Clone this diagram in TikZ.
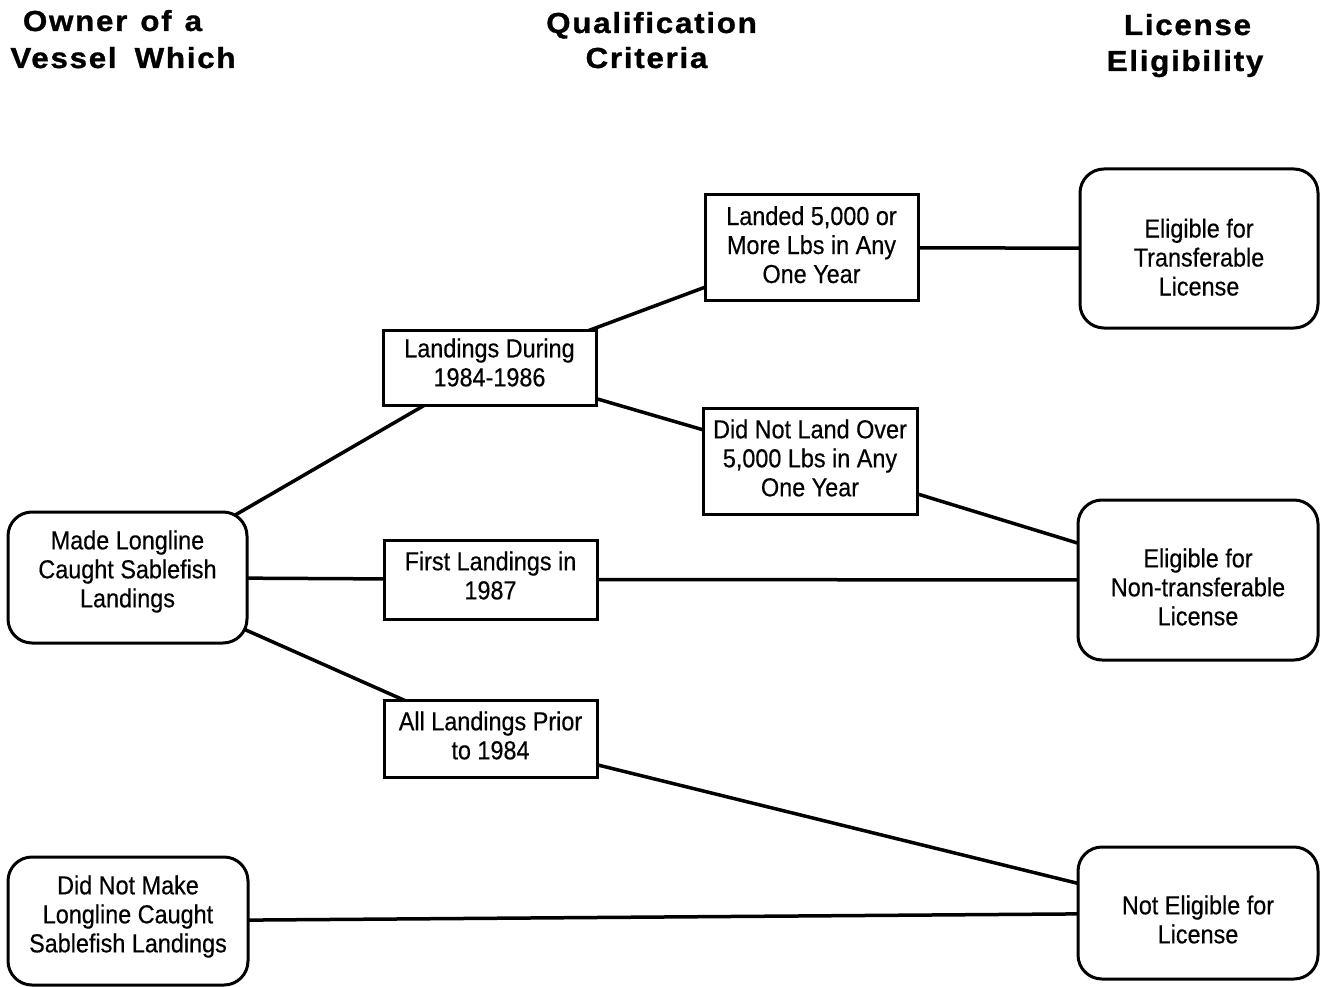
\documentclass[tikz,border=0pt]{standalone}
\usepackage{fontspec}
\setmainfont{Liberation Sans}
\newfontfamily\headface[LetterSpace=6,FakeStretch=1.08,FakeBold=1]{Liberation Sans}
\newfontfamily\cellface[FakeStretch=0.9,FakeBold=0.4]{Liberation Sans}
\newcommand\cellfont{\cellface\fontsize{26}{29}\selectfont}
\pgfdeclarelayer{bg}
\pgfsetlayers{bg,main}

\begin{document}
\begin{tikzpicture}[x=1pt,y=-1pt,
  crit/.style={draw, line width=3pt, fill=white, inner sep=0pt, align=center,
    font=\cellfont, text depth=0pt},
  outcome/.style={crit, rounded corners=24pt},
  % text height places the last baseline of a box's text
  th/.style={text height=#1pt},
  head/.style={anchor=base, inner sep=0pt, font=\headface\bfseries\fontsize{29}{34}\selectfont},
  link/.style={line width=3.5pt}]

\begin{pgfonlayer}{bg}
  \fill[white] (0,0) rectangle (1322,987);
\end{pgfonlayer}
\useasboundingbox (0,0) rectangle (1322,987);

% column headings
\node[head] (h1a) at (112.5,31) {Owner\hspace{13pt}of\hspace{13pt}a};
\node[head] (h1b) at (123,68) {Vessel\hspace{18pt}Which};
\node[head] (h2a) at (651.5,33) {Qualification};
\node[head] (h2b) at (646.5,68) {Criteria};
\node[head] (h3a) at (1187.5,35) {License};
\node[head] (h3b) at (1185,71) {Eligibility};

% vessel owners
\node[outcome, th=59.6, minimum width=239pt, minimum height=131pt] (made) at (127.5,577.5)
  {Made Longline\\Caught Sablefish\\Landings};
\node[outcome, th=62.6, minimum width=240pt, minimum height=128pt] (notmade) at (128,921)
  {Did Not Make\\Longline Caught\\Sablefish Landings};

% qualification criteria
\node[crit, th=37.6, minimum width=213pt, minimum height=75pt] (during) at (489.5,367.5)
  {Landings During\\1984-1986};
\node[crit, th=39.6, minimum width=213pt, minimum height=79pt] (first) at (490.5,579.5)
  {First Landings in\\1987};
\node[crit, th=41.6, minimum width=213pt, minimum height=77pt] (prior) at (490.5,738.5)
  {All Landings Prior\\to 1984};
\node[crit, th=71, minimum width=213pt, minimum height=105pt] (over) at (811.5,247.5)
  {Landed 5,000 or\\More Lbs in Any\\One Year};
\node[crit, th=70.6, minimum width=214pt, minimum height=106pt] (under) at (810,461)
  {Did Not Land Over\\5,000 Lbs in Any\\One Year};

% license eligibility
\node[outcome, th=94, minimum width=238pt, minimum height=159pt] (trans) at (1199,248.5)
  {Eligible for\\Transferable\\License};
\node[outcome, th=90.6, minimum width=240pt, minimum height=160pt] (nontrans) at (1198,580)
  {Eligible for\\Non-transferable\\License};
\node[outcome, th=60.6, minimum width=240pt, minimum height=132pt] (none) at (1198,913)
  {Not Eligible for\\License};

% connectors, drawn under the boxes
\begin{pgfonlayer}{bg}
  \draw[link] (made.center) -- (during.center);
  \draw[link] (made.center) -- (first.center);
  \draw[link] (made.center) -- (prior.center);
  \draw[link] (during.center) -- (over.center);
  \draw[link] (during.center) -- (under.center);
  \draw[link] (over.center) -- (trans.center);
  \draw[link] (under.center) -- (nontrans.center);
  \draw[link] (first.center) -- (nontrans.center);
  \draw[link] (prior.center) -- (none.center);
  \draw[link] (notmade.center) -- (none.center);
\end{pgfonlayer}
\end{tikzpicture}
\end{document}
